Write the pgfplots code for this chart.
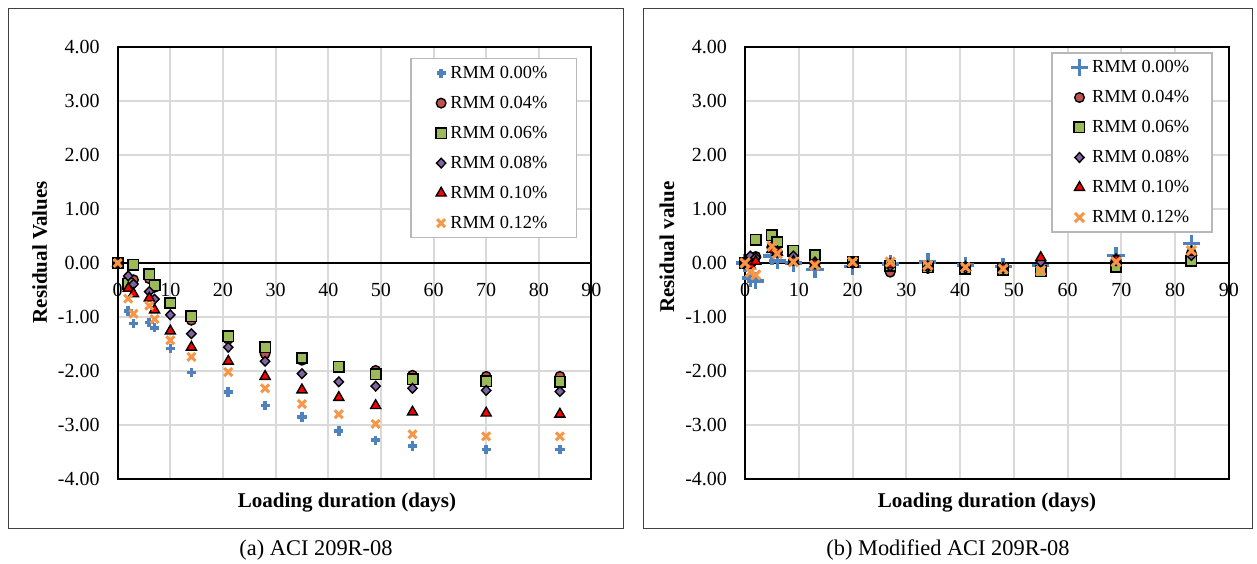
\documentclass[border=0pt]{standalone}
\usepackage{fontspec}
\setmainfont{Liberation Serif}
\usepackage{pgfplots}
\pgfplotsset{compat=1.18}

\definecolor{c0}{HTML}{4F81BD}
\definecolor{c1}{HTML}{C0504D}
\definecolor{c2}{HTML}{9BBB59}
\definecolor{c3}{HTML}{8064A2}
\definecolor{c4}{HTML}{FF0000}
\definecolor{c5}{HTML}{F79646}

\pgfplotsset{
  panel/.style={
    scale only axis, height=216pt,
    xmin=0, xmax=90, ymin=-4, ymax=4,
    xtick={0,10,...,90}, ytick={-4,-3,...,4},
    grid=major, grid style={line width=1pt, color=black!15},
    axis line style={line width=1pt},
    major tick length=0pt,
    /pgf/number format/assume math mode=true,
    tick label style={font=\fontsize{10}{12}\selectfont},
    y tick label style={/pgf/number format/.cd, fixed, fixed zerofill, precision=2, /tikz/.cd, xshift=-5.5pt},
    x tick label style={yshift=101.5pt},
    every axis x label/.style={at={(axis description cs:0.5,0)}, anchor=center, yshift=-12pt, font=\fontsize{10.5}{12}\selectfont\bfseries},
    every axis y label/.style={at={(axis description cs:0,0.525)}, xshift=-39pt, rotate=90, anchor=center, font=\fontsize{10.5}{12}\selectfont\bfseries},
    legend cell align=left,
    legend image code/.code={\draw[mark repeat=2,mark phase=2,##1] plot coordinates {(0pt,0pt)(3pt,0pt)(6pt,0pt)};},
    legend style={anchor=north east, draw=black!28, line width=0.8pt,
      font=\fontsize{9.2}{11}\selectfont, inner xsep=12.5pt, inner ysep=1.5pt, row sep=3.5pt,
      nodes={text height=6.5pt, text depth=1pt, inner ysep=2pt, inner xsep=2pt}},
  },
  s0/.style={only marks, mark=+, mark size=2.3pt, line width=1.8pt, color=c0},
  s1/.style={only marks, mark=*, mark size=2.4pt, line width=0.7pt, draw=black, fill=c1},
  s2/.style={only marks, mark=square*, mark size=2.6pt, line width=0.8pt, draw=black, fill=c2},
  s3/.style={only marks, mark=diamond*, mark size=2.4pt, line width=0.7pt, draw=black, fill=c3, every mark/.append style={xscale=1.3}},
  s4/.style={only marks, mark=triangle*, mark size=2.9pt, line width=0.7pt, draw=black, fill=c4},
  s5/.style={only marks, mark=x, mark size=2.8pt, line width=1.5pt, color=c5},
}

\begin{document}
\begin{tikzpicture}[x=1pt,y=1pt]
\path[use as bounding box] (0,0) rectangle (628.5,281.5);
\draw[line width=0.5pt, black!75] (4,17.5) rectangle (311.5,277);
\draw[line width=0.5pt, black!75] (321.5,17.5) rectangle (626,277);
\node[font=\fontsize{11.2}{13}\selectfont] at (158,6.5) {(a) ACI 209R-08};
\node[font=\fontsize{11.2}{13}\selectfont] at (474,6.5) {(b) Modified ACI 209R-08};

% ---------------- left panel ----------------
\begin{axis}[panel, at={(58.85pt,42pt)}, anchor=south west, width=236.9pt,
  xlabel={Loading duration (days)}, ylabel={Residual Values},
  every axis x label/.append style={at={(axis description cs:0.484,0)}},
  legend style={at={(0.97,0.975)}}]
\draw[line width=1pt] (axis cs:0,0) -- (axis cs:90,0);
\addplot[s0] coordinates {(0,0)(2,-0.89)(3,-1.12)(6,-1.10)(7,-1.20)(10,-1.58)(14,-2.03)(21,-2.39)(28,-2.64)(35,-2.85)(42,-3.11)(49,-3.28)(56,-3.39)(70,-3.45)(84,-3.45)};
\addlegendentry{RMM 0.00\%}
\addplot[s1] coordinates {(0,0)(2,-0.31)(3,-0.31)(6,-0.29)(7,-0.45)(10,-0.75)(14,-1.06)(21,-1.41)(28,-1.68)(35,-1.80)(42,-1.92)(49,-1.99)(56,-2.08)(70,-2.10)(84,-2.10)};
\addlegendentry{RMM 0.04\%}
\addplot[s2] coordinates {(0,0)(2,-0.38)(3,-0.03)(6,-0.21)(7,-0.41)(10,-0.74)(14,-0.99)(21,-1.36)(28,-1.56)(35,-1.76)(42,-1.92)(49,-2.06)(56,-2.15)(70,-2.19)(84,-2.20)};
\addlegendentry{RMM 0.06\%}
\addplot[s3] coordinates {(0,0)(2,-0.24)(3,-0.39)(6,-0.53)(7,-0.67)(10,-0.96)(14,-1.31)(21,-1.56)(28,-1.82)(35,-2.05)(42,-2.20)(49,-2.28)(56,-2.32)(70,-2.36)(84,-2.38)};
\addlegendentry{RMM 0.08\%}
\addplot[s4] coordinates {(0,0)(2,-0.47)(3,-0.57)(6,-0.65)(7,-0.87)(10,-1.26)(14,-1.56)(21,-1.82)(28,-2.10)(35,-2.35)(42,-2.49)(49,-2.64)(56,-2.76)(70,-2.78)(84,-2.80)};
\addlegendentry{RMM 0.10\%}
\addplot[s5] coordinates {(0,0)(2,-0.66)(3,-0.94)(6,-0.79)(7,-1.04)(10,-1.43)(14,-1.74)(21,-2.02)(28,-2.32)(35,-2.61)(42,-2.80)(49,-2.98)(56,-3.17)(70,-3.21)(84,-3.21)};
\addlegendentry{RMM 0.12\%}
\end{axis}

% ---------------- right panel ----------------
\begin{axis}[panel, at={(372.5pt,42pt)}, anchor=south west, width=242pt,
  xlabel={Loading duration (days)}, ylabel={Residual value},
  every axis y label/.append style={xshift=2.5pt},
  legend style={at={(0.967,0.988)}, inner xsep=9.5pt}]
\draw[line width=1pt] (axis cs:0,0) -- (axis cs:90,0);
\addplot[s0, mark size=4.3pt, line width=1.7pt] coordinates {(0,0)(1,-0.28)(2,-0.33)(5,0.13)(6,0.04)(9,0.00)(13,-0.12)(20,-0.07)(27,-0.02)(34,0.02)(41,-0.04)(48,-0.07)(55,-0.05)(69,0.14)(83,0.36)};
\addlegendentry{RMM 0.00\%}
\addplot[s1] coordinates {(0,0)(1,0.05)(2,0.12)(5,0.30)(6,0.20)(9,0.05)(13,-0.02)(20,0.00)(27,-0.17)(34,-0.10)(41,-0.12)(48,-0.12)(55,-0.12)(69,0.06)(83,0.18)};
\addlegendentry{RMM 0.04\%}
\addplot[s2] coordinates {(0,0)(1,0.05)(2,0.43)(5,0.51)(6,0.39)(9,0.23)(13,0.15)(20,0.01)(27,-0.05)(34,-0.08)(41,-0.11)(48,-0.13)(55,-0.15)(69,-0.07)(83,0.04)};
\addlegendentry{RMM 0.06\%}
\addplot[s3] coordinates {(0,0)(1,0.13)(2,0.10)(5,0.28)(6,0.22)(9,0.13)(13,0.02)(20,0.00)(27,-0.06)(34,-0.08)(41,-0.10)(48,-0.10)(55,0.02)(69,0.04)(83,0.14)};
\addlegendentry{RMM 0.08\%}
\addplot[s4] coordinates {(0,0)(1,-0.05)(2,0.03)(5,0.25)(6,0.20)(9,0.03)(13,-0.02)(20,-0.01)(27,-0.03)(34,-0.07)(41,-0.08)(48,-0.10)(55,0.10)(69,0.06)(83,0.20)};
\addlegendentry{RMM 0.10\%}
\addplot[s5, mark size=3.2pt] coordinates {(0,0)(1,-0.17)(2,-0.22)(5,0.31)(6,0.17)(9,0.02)(13,-0.04)(20,0.02)(27,0.02)(34,-0.04)(41,-0.08)(48,-0.11)(55,-0.14)(69,0.02)(83,0.23)};
\addlegendentry{RMM 0.12\%}
\end{axis}
\end{tikzpicture}
\end{document}
